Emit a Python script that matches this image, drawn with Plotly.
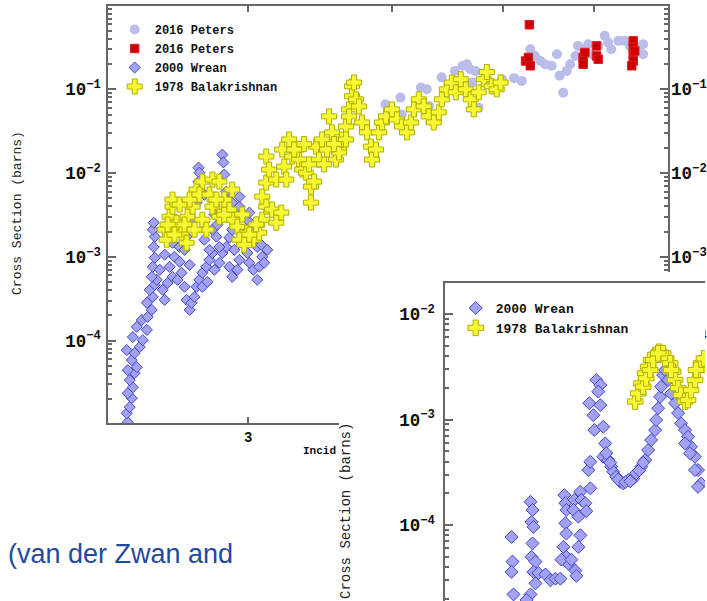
import math
import plotly.graph_objects as go

W, H = 707, 601

# ---------------- main panel data (Energy, cross section in barns) ----------------
peters_circ_E = [3.95, 4.07, 4.08, 4.24, 4.29, 4.31, 4.42, 4.48, 4.54, 4.61, 4.65, 4.68, 4.73, 4.70,
                 4.76, 4.83, 4.91, 4.99, 5.11, 5.19, 5.28, 5.33, 5.39, 5.44, 5.51, 5.57, 5.60, 5.64,
                 5.68, 5.72, 5.78, 5.81, 5.87, 5.93, 5.97, 6.05, 6.13, 6.17, 6.21, 6.30, 6.38, 6.45,
                 6.55, 6.62, 6.62]
peters_circ_xs = [0.0661, 0.0796, 0.0502, 0.105, 0.100, 0.0632, 0.139, 0.105, 0.166, 0.191, 0.199,
                  0.174, 0.166, 0.121, 0.0604, 0.121, 0.110, 0.132, 0.136, 0.126, 0.301, 0.250, 0.218,
                  0.199, 0.191, 0.262, 0.145, 0.0913, 0.166, 0.199, 0.250, 0.330, 0.301, 0.346, 0.262,
                  0.330, 0.436, 0.362, 0.301, 0.379, 0.379, 0.330, 0.316, 0.346, 0.262]

peters_sq_E = [5.27, 5.23, 5.28, 5.26, 5.87, 5.87, 5.89, 6.03, 6.03, 6.05, 6.49, 6.49, 6.49, 6.49, 6.47, 6.51]
peters_sq_xs = [0.590, 0.218, 0.191, 0.240, 0.240, 0.199, 0.275, 0.330, 0.250, 0.229, 0.379, 0.316,
                0.262, 0.218, 0.191, 0.287]

wrean_E = [2.356, 2.351, 2.365, 2.375, 2.356, 2.380, 2.365, 2.389, 2.356, 2.399, 2.375, 2.351, 2.389,
           2.413, 2.380, 2.399, 2.423, 2.448, 2.428, 2.452, 2.472, 2.448, 2.477, 2.462, 2.487, 2.497,
           2.472, 2.477, 2.487, 2.482, 2.487, 2.477, 2.482, 2.527, 2.537, 2.552, 2.577, 2.562, 2.587,
           2.614, 2.624, 2.640, 2.651, 2.667, 2.677, 2.693, 2.704, 2.720, 2.736, 2.758, 2.775, 2.792,
           2.736, 2.764, 2.803, 2.831, 2.848, 2.870, 2.888, 2.905, 2.831, 2.814, 2.792, 2.888, 2.905,
           2.947, 2.994, 3.006, 3.030, 3.054, 3.066, 3.085, 3.054, 3.030, 2.994, 3.006, 2.947, 2.905,
           2.870, 2.704, 2.683, 2.651, 2.614, 2.577, 2.715, 2.720, 2.715, 2.848, 2.854, 2.859, 2.870,
           2.947, 2.720, 2.747, 2.803, 2.970, 3.079,
           2.640, 2.667, 2.747, 2.775, 2.820, 2.917, 2.935, 2.964, 3.042, 3.097, 3.116, 2.603, 2.512,
           2.537]
wrean_xs = [1.06e-5, 1.35e-5, 1.60e-5, 2.05e-5, 2.35e-5, 2.77e-5, 3.36e-5, 4.08e-5, 4.43e-5, 4.81e-5,
            5.84e-5, 7.7e-5, 7.09e-5, 8.36e-5, 1.10e-4, 1.455e-4, 1.76e-4, 1.34e-4, 1.01e-4, 1.91e-4,
            2.32e-4, 2.82e-4, 3.32e-4, 4.03e-4, 4.63e-4, 5.31e-4, 5.77e-4, 7.59e-4, 9.74e-4, 1.31e-3,
            1.74e-3, 2.11e-3, 2.55e-3, 4.03e-4, 3.06e-4, 4.89e-4, 5.77e-4, 7.59e-4, 1.0e-3, 8.71e-4,
            6.44e-4, 4.38e-4, 3.06e-4, 2.32e-4, 2.82e-4, 3.32e-4, 4.38e-4, 5.31e-4, 6.44e-4, 7.59e-4,
            9.21e-4, 1.11e-3, 4.38e-4, 5.02e-4, 6.99e-4, 8.48e-4, 1.11e-3, 1.31e-3, 1.69e-3, 2.11e-3,
            1.31e-3, 1.74e-3, 2.11e-3, 7.59e-4, 5.77e-4, 9.21e-4, 1.11e-3, 8.48e-4, 6.99e-4, 5.31e-4,
            7.59e-4, 1.0e-3, 1.31e-3, 1.74e-3, 2.77e-3, 3.37e-3, 3.97e-3, 4.44e-3, 4.82e-3, 4.44e-3,
            2.77e-3, 1.74e-3, 1.31e-3, 1.47e-3, 1.16e-2, 1.01e-2, 7.91e-3, 1.66e-2, 1.34e-2, 9.6e-3,
            6.0e-3, 5.23e-3, 5.84e-3, 5.5e-3, 3.2e-3, 2.11e-3, 1.39e-3,
            1.21e-3, 8.0e-4, 1.6e-3, 1.21e-3, 2.42e-3, 1.21e-3, 7.0e-4, 1.6e-3, 2.11e-3, 8.5e-4,
            1.21e-3, 5.3e-4, 7.0e-4, 1.06e-3]

bala_E = [2.537, 2.547, 2.562, 2.577, 2.577, 2.598, 2.624, 2.651, 2.656, 2.683, 2.704, 2.736, 2.736,
          2.758, 2.792, 2.792, 2.831, 2.831, 2.888, 2.905, 2.905, 2.935, 2.994, 3.030, 3.066, 3.085,
          3.085, 3.110, 3.110, 3.110, 3.128, 3.147, 3.173, 3.173, 3.205, 3.211, 3.224, 3.256, 3.276,
          3.322, 3.342, 3.369, 3.402, 3.402, 3.423, 3.437, 3.457, 3.478, 3.527, 3.548, 3.577, 3.598,
          3.598, 3.620, 3.649, 3.649, 3.671, 3.671, 3.693, 3.693, 3.708, 3.723, 3.745, 3.768, 3.806,
          3.836, 3.844, 3.875, 3.898, 3.922, 3.953, 4.001, 4.041, 4.082, 4.123, 4.156, 4.181, 4.222,
          4.264, 4.307, 4.351, 4.395, 4.422, 4.466, 4.511, 4.547, 4.593, 4.639, 4.686, 4.714, 4.761,
          4.810, 4.839, 4.887, 4.936, 4.975, 2.614, 2.667, 2.859, 2.964, 3.048, 3.308, 3.355, 3.492,
          3.513,
          2.552, 2.587, 2.640, 2.693, 2.720, 2.775, 2.814, 2.859, 2.947, 2.976, 3.006, 3.237, 3.289,
          3.388, 3.562]
bala_xs = [0.00211, 0.00160, 0.00301, 0.00397, 0.00482, 0.00255, 0.00194, 0.00147, 0.00301, 0.00397,
           0.00634, 0.00277, 0.00791, 0.00211, 0.00397, 0.00836, 0.00301, 0.00791, 0.00366, 0.00634,
           0.00277, 0.00229, 0.00194, 0.00160, 0.00194, 0.00277, 0.00523, 0.00397, 0.0077, 0.01575,
           0.0110, 0.00366, 0.00255, 0.00836, 0.00337, 0.0191, 0.01195, 0.0252, 0.01575, 0.0145,
           0.0110, 0.0101, 0.00689, 0.00444, 0.00791, 0.0207, 0.0145, 0.0252, 0.0475, 0.0306, 0.0145,
           0.0191, 0.0176, 0.0252, 0.0360, 0.0252, 0.0576, 0.0475, 0.1086, 0.0825, 0.1205, 0.0759,
           0.0625, 0.0402, 0.0306, 0.0207, 0.0145, 0.0191, 0.0306, 0.0402, 0.0475, 0.0576, 0.0437,
           0.0360, 0.0306, 0.0402, 0.0576, 0.0759, 0.0625, 0.0475, 0.0402, 0.0531, 0.0759, 0.100,
           0.1205, 0.0921, 0.132, 0.100, 0.0759, 0.0576, 0.0921, 0.132, 0.161, 0.1086, 0.100, 0.1205,
           0.0042, 0.00482, 0.00482, 0.0032, 0.00243, 0.0191, 0.0222, 0.0127, 0.0191,
           0.00243, 0.00184, 0.00243, 0.00211, 0.00553, 0.00553, 0.00482, 0.00318, 0.00160, 0.00139,
           0.00184, 0.00836, 0.0191, 0.0127, 0.0222]

main_xtick_vals = [3]
main_xtick_text = ["3"]
top_xtick_vals = [3, 4, 5, 6]

# ---------------- inset panel data ----------------
wrean_zoom_E = [2.467, 2.468, 2.467, 2.469, 2.486, 2.488, 2.487, 2.489, 2.488, 2.487, 2.491, 2.489,
                2.494, 2.491, 2.486, 2.482, 2.501, 2.506, 2.511, 2.516, 2.520, 2.521, 2.522, 2.521,
                2.522, 2.519, 2.522, 2.524, 2.517, 2.527, 2.531, 2.532, 2.530, 2.529, 2.536, 2.537,
                2.541, 2.542, 2.534, 2.536, 2.534, 2.546, 2.544, 2.546, 2.545, 2.549, 2.550, 2.552,
                2.556, 2.554, 2.556, 2.559, 2.561, 2.559, 2.564, 2.567, 2.569, 2.572, 2.576, 2.579,
                2.584, 2.589, 2.592, 2.597, 2.601, 2.604, 2.607, 2.611, 2.612, 2.614, 2.616, 2.617,
                2.619, 2.621, 2.624, 2.627, 2.631, 2.634, 2.637, 2.641, 2.644, 2.647, 2.651, 2.654,
                2.657, 2.641, 2.646, 2.651, 2.654, 2.574, 2.581, 2.586, 2.595, 2.599, 2.562, 2.566]
wrean_zoom_xs = [7.7e-5, 4.5e-5, 3.6e-5, 2.2e-5, 1.66e-4, 1.39e-4, 1.07e-4, 9.6e-5, 6.7e-5, 5.0e-5,
                 4.5e-5, 3.6e-5, 3.5e-5, 2.8e-5, 2.2e-5, 1.95e-5, 3.4e-5, 3.0e-5, 3.1e-5, 3.1e-5,
                 1.92e-4, 1.61e-4, 1.39e-4, 1.04e-4, 8.3e-5, 6.2e-5, 5.0e-5, 4.3e-5, 4.7e-5, 4.7e-5,
                 3.7e-5, 3.3e-5, 1.73e-4, 1.39e-4, 2.07e-4, 1.73e-4, 1.61e-4, 1.35e-4, 1.2e-4, 8.0e-5,
                 6.2e-5, 2.23e-4, 3.32e-4, 3.98e-4, 1.43e-3, 1.10e-3, 7.95e-4, 2.37e-3, 2.12e-3,
                 1.84e-3, 1.37e-3, 8.55e-4, 5.94e-4, 4.44e-4, 4.13e-4, 3.57e-4, 3.2e-4, 2.87e-4,
                 2.57e-4, 2.48e-4, 2.67e-4, 2.75e-4, 3.09e-4, 3.57e-4, 4.13e-4, 5.14e-4, 6.39e-4,
                 7.95e-4, 9.9e-4, 1.28e-3, 1.64e-3, 2.05e-3, 2.64e-3, 2.95e-3, 2.37e-3, 1.77e-3,
                 1.43e-3, 1.15e-3, 9.2e-4, 7.95e-4, 6.87e-4, 5.52e-4, 4.44e-4, 3.32e-4, 2.48e-4,
                 5.94e-4, 4.79e-4, 3.32e-4, 2.3e-4, 2.7e-4, 2.55e-4, 2.6e-4, 3.3e-4, 3.9e-4, 4.8e-4,
                 3.9e-4]

bala_zoom_E = [2.591, 2.594, 2.597, 2.601, 2.604, 2.607, 2.611, 2.615, 2.619, 2.622, 2.626, 2.629,
               2.631, 2.634, 2.637, 2.641, 2.644, 2.647, 2.651, 2.654, 2.657, 2.660, 2.599, 2.602,
               2.606, 2.609, 2.614, 2.627, 2.652]
bala_zoom_xs = [1.48e-3, 1.77e-3, 2.2e-3, 2.74e-3, 3.17e-3, 3.67e-3, 4.09e-3, 4.39e-3, 4.24e-3,
                3.8e-3, 3.41e-3, 2.84e-3, 2.37e-3, 1.98e-3, 1.71e-3, 1.48e-3, 1.53e-3, 1.9e-3,
                2.37e-3, 2.95e-3, 3.41e-3, 3.8e-3, 2.05e-3, 2.46e-3, 2.95e-3, 3.67e-3, 4.24e-3,
                2.95e-3, 2.95e-3]

# ---------------- styling ----------------
MONO = "Liberation Mono"
AX = "#666666"
WREAN_FILL, WREAN_LINE = "#a2a2f2", "#4646cc"
BALA_FILL, BALA_LINE = "#f8f832", "#b0b000"
CIRC_FILL = "#babde9"
SQ_FILL, SQ_LINE = "#cc0000", "#dd2020"


def fx(px):
    return px / W


def fy(py):
    return 1 - py / H


fig = go.Figure()

fig.add_trace(go.Scatter(x=wrean_E, y=wrean_xs, mode="markers", name="2000 Wrean", legendrank=3,
                         marker=dict(symbol="diamond", size=8.5, color=WREAN_FILL,
                                     line=dict(color=WREAN_LINE, width=1)),
                         xaxis="x", yaxis="y", legend="legend"))
fig.add_trace(go.Scatter(x=peters_circ_E, y=peters_circ_xs, mode="markers", name="2016 Peters",
                         legendrank=1,
                         marker=dict(symbol="circle", size=10, color=CIRC_FILL,
                                     line=dict(color=CIRC_FILL, width=0)),
                         xaxis="x", yaxis="y", legend="legend"))
fig.add_trace(go.Scatter(x=bala_E, y=bala_xs, mode="markers", name="1978 Balakrishnan", legendrank=4,
                         marker=dict(symbol="cross", size=12.5, color=BALA_FILL,
                                     line=dict(color=BALA_LINE, width=1)),
                         xaxis="x", yaxis="y", legend="legend"))
fig.add_trace(go.Scatter(x=peters_sq_E, y=peters_sq_xs, mode="markers", name="2016 Peters ",
                         legendrank=2,
                         marker=dict(symbol="square", size=8.5, color=SQ_FILL,
                                     line=dict(color=SQ_LINE, width=1)),
                         xaxis="x", yaxis="y", legend="legend"))

# overlay axes: right-hand tick labels and top tick marks of the main panel
fig.add_trace(go.Scatter(x=[], y=[], mode="markers", showlegend=False, hoverinfo="skip",
                         xaxis="x", yaxis="y4"))
fig.add_trace(go.Scatter(x=[], y=[], mode="markers", showlegend=False, hoverinfo="skip",
                         xaxis="x4", yaxis="y"))
# blank cover panel (background of the pasted inset picture)
fig.add_trace(go.Scatter(x=[], y=[], mode="markers", showlegend=False, hoverinfo="skip",
                         xaxis="x2", yaxis="y2"))

# inset traces
fig.add_trace(go.Scatter(x=wrean_zoom_E, y=wrean_zoom_xs, mode="markers", name="2000 Wrean",
                         marker=dict(symbol="diamond", size=10, color=WREAN_FILL,
                                     line=dict(color=WREAN_LINE, width=1)),
                         xaxis="x3", yaxis="y3", legend="legend2"))
fig.add_trace(go.Scatter(x=bala_zoom_E, y=bala_zoom_xs, mode="markers", name="1978 Balakrishnan",
                         marker=dict(symbol="cross", size=13, color=BALA_FILL,
                                     line=dict(color=BALA_LINE, width=1)),
                         xaxis="x3", yaxis="y3", legend="legend2"))

tickfont = dict(family=MONO, size=14, color="#111", weight="bold")
xrange_main = [math.log10(2.263), math.log10(6.96)]
yrange_main = [-4.985, -0.005]

fig.update_layout(
    width=W, height=H, margin=dict(l=0, r=0, t=0, b=0),
    paper_bgcolor="white", plot_bgcolor="white",
    showlegend=True,
    xaxis=dict(type="log", range=xrange_main,
               domain=[fx(108), fx(670)], anchor="y",
               showline=True, linecolor=AX, linewidth=2, mirror=True,
               ticks="inside", ticklen=6, tickwidth=1.5, tickcolor=AX,
               tickmode="array", tickvals=main_xtick_vals, ticktext=main_xtick_text,
               tickfont=tickfont, showgrid=False, zeroline=False),
    xaxis4=dict(type="log", range=xrange_main, overlaying="x", side="top", anchor="y",
                showline=False, ticks="inside", ticklen=6, tickwidth=1.5, tickcolor=AX,
                tickmode="array", tickvals=top_xtick_vals, showticklabels=False,
                showgrid=False, zeroline=False),
    yaxis=dict(type="log", range=yrange_main, domain=[fy(423), fy(6)], anchor="x",
               showline=True, linecolor=AX, linewidth=2, mirror="ticks",
               ticks="inside", ticklen=8, tickwidth=1.5, tickcolor=AX, dtick=1,
               exponentformat="power", tickfont=tickfont, ticklabelstandoff=2,
               minor=dict(ticks="inside", ticklen=4, tickcolor=AX, showgrid=False),
               showgrid=False, zeroline=False),
    yaxis4=dict(type="log", range=yrange_main, overlaying="y", side="right", anchor="x",
                showline=False, ticks="", dtick=1, exponentformat="power", tickfont=tickfont,
                ticklabelstandoff=2, showgrid=False, zeroline=False),
    xaxis2=dict(domain=[fx(340), 1], anchor="y2", visible=False, range=[0, 1]),
    yaxis2=dict(domain=[0, fy(272)], anchor="x2", visible=False, range=[0, 1]),
    xaxis3=dict(domain=[fx(446), 1], anchor="y3", range=[2.40, 2.661], side="top",
                showline=True, linecolor=AX, linewidth=2, ticks="", showticklabels=False,
                showgrid=False, zeroline=False),
    yaxis3=dict(type="log", range=[-4.72, -1.706], domain=[0, fy(283)], anchor="x3",
                showline=True, linecolor=AX, linewidth=2, ticks="inside", ticklen=8,
                tickwidth=1.5, tickcolor=AX, dtick=1, exponentformat="power",
                tickfont=tickfont, ticklabelstandoff=5,
                minor=dict(ticks="inside", ticklen=4, tickcolor=AX, showgrid=False),
                showgrid=False, zeroline=False),
    legend=dict(x=fx(115), y=fy(15), xanchor="left", yanchor="top", bgcolor="rgba(0,0,0,0)",
                font=dict(family=MONO, size=12, color="#111", weight="bold"),
                traceorder="normal", itemsizing="trace"),
    legend2=dict(x=fx(457), y=fy(293), xanchor="left", yanchor="top", bgcolor="rgba(0,0,0,0)",
                 font=dict(family=MONO, size=13, color="#111", weight="bold"),
                 traceorder="normal", itemsizing="trace"),
    annotations=[
        dict(text="Cross Section (barns)", x=fx(17), y=fy(213), xref="paper", yref="paper",
             xanchor="center", yanchor="middle",
             textangle=-90, showarrow=False, font=dict(family=MONO, size=13, color="#222")),
        dict(text="Cross Section (barns)", x=fx(347), y=fy(511), xref="paper", yref="paper",
             xanchor="center", yanchor="middle",
             textangle=-90, showarrow=False, font=dict(family=MONO, size=14, color="#222")),
        dict(text="Incid", x=fx(339), y=fy(451), xref="paper", yref="paper", xanchor="right",
             yanchor="middle",
             showarrow=False, font=dict(family=MONO, size=11, color="#111", weight="bold")),
        dict(text="s (van der Zwan and", x=fx(236), y=fy(554), xref="paper", yref="paper",
             xanchor="right", yanchor="middle", showarrow=False,
             font=dict(family="Liberation Sans", size=27, color="#1f4aa0")),
    ],
)

fig.write_html("out.html", config={"displayModeBar": False},
               post_script="document.body.style.margin = '0';")
